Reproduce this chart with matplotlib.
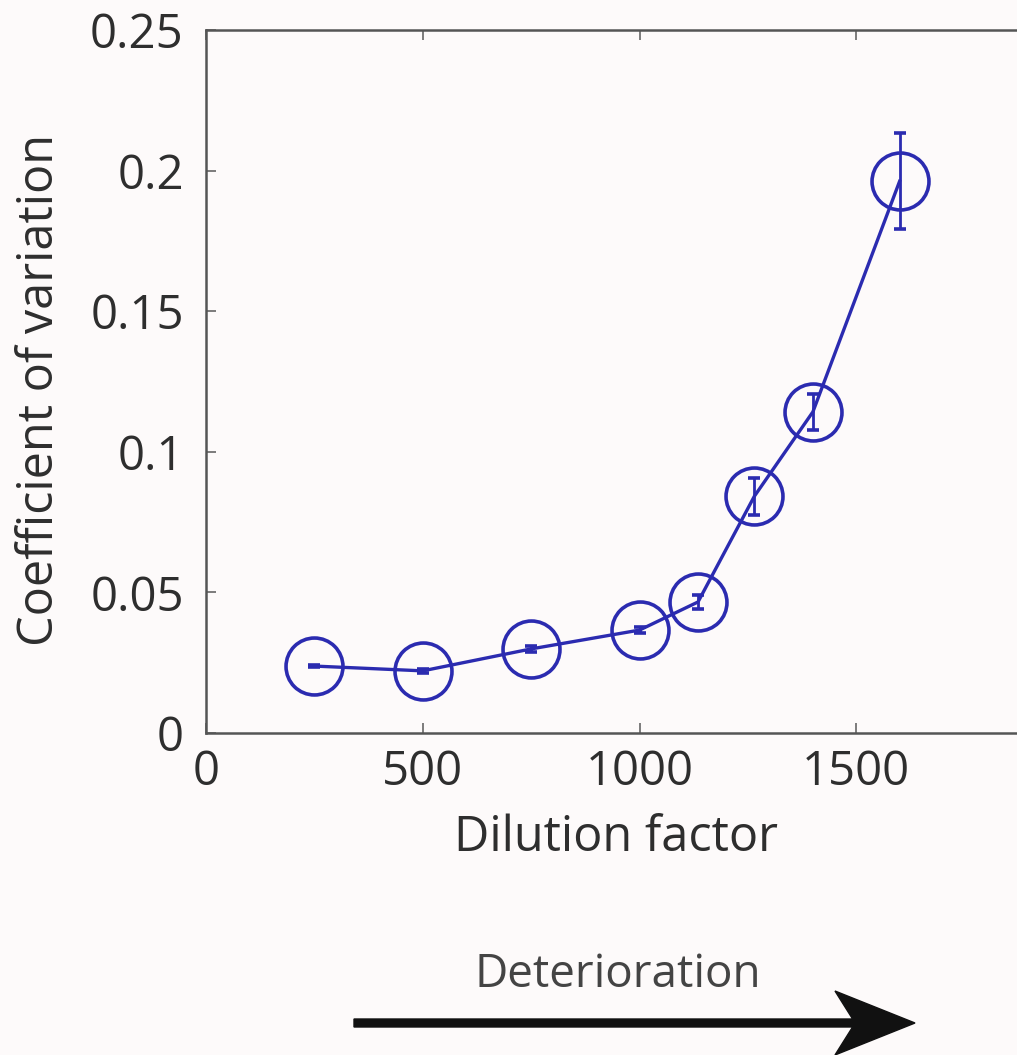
import matplotlib
matplotlib.use("Agg")
import matplotlib.pyplot as plt
from matplotlib.patches import FancyArrow

# Data
dilution = [250, 500, 750, 1000, 1135, 1265, 1400, 1600]
cv = [0.0238, 0.0221, 0.0299, 0.0366, 0.0466, 0.0842, 0.1142, 0.1962]
cv_err = [0.0005, 0.0006, 0.0010, 0.0012, 0.0025, 0.0065, 0.0065, 0.0170]
xticks = [0, 500, 1000, 1500, 2000]
xticklabels = ["0", "500", "1000", "1500", ""]
yticks = [0, 0.05, 0.1, 0.15, 0.2, 0.25]
yticklabels = ["0", "0.05", "0.1", "0.15", "0.2", "0.25"]

plt.rcParams['font.family'] = ['Open Sans', 'DejaVu Sans']
bg = '#fdfafa'
blue = '#2b2bb0'
txt = '#2e2e2e'

fig = plt.figure(figsize=(10.17, 10.55), dpi=100, facecolor=bg)
W, H = 1017, 1055
left, right, top, bottom = 206, 1073, 30, 733
ax = fig.add_axes([left / W, 1 - bottom / H, (right - left) / W, (bottom - top) / H])
ax.set_facecolor(bg)

ax.errorbar(dilution, cv, yerr=cv_err, color=blue, lw=2.4, marker='o',
            ms=41, mfc='none', mec=blue, mew=2.6, ecolor=blue, elinewidth=2,
            capsize=4, capthick=2, clip_on=False, zorder=3)

ax.set_xlim(0, 2000)
ax.set_ylim(0, 0.25)
ax.set_xticks(xticks)
ax.set_xticklabels(xticklabels)
ax.set_yticks(yticks)
ax.set_yticklabels(yticklabels)
ax.tick_params(direction='in', top=True, right=True, length=7, width=1.2,
               color='#666666', labelsize=34, labelcolor=txt)
ax.tick_params(axis='y', pad=16)
ax.tick_params(axis='x', pad=11)
for s in ax.spines.values():
    s.set_color('#555555')
    s.set_linewidth(1.8)

ax.set_xlabel('Dilution factor', fontsize=35, color=txt, labelpad=13)
ax.xaxis.label.set_x((616 - left) / (right - left))
ax.set_ylabel('Coefficient of variation', fontsize=35, color=txt, labelpad=18)
ax.yaxis.label.set_y((bottom - 390) / (bottom - top))

fig.text(618 / W, 1 - 975 / H, 'Deterioration', fontsize=33, color='#444444',
         ha='center', va='center')
arrow_y = (H - 1023) / 100
fig.add_artist(FancyArrow(3.54, arrow_y, 9.15 - 3.54, 0, width=0.08,
                          head_width=0.64, head_length=0.8, overhang=0.22,
                          length_includes_head=True, color='#111111',
                          transform=fig.dpi_scale_trans))

fig.savefig('out.png', dpi=100, facecolor=bg)
